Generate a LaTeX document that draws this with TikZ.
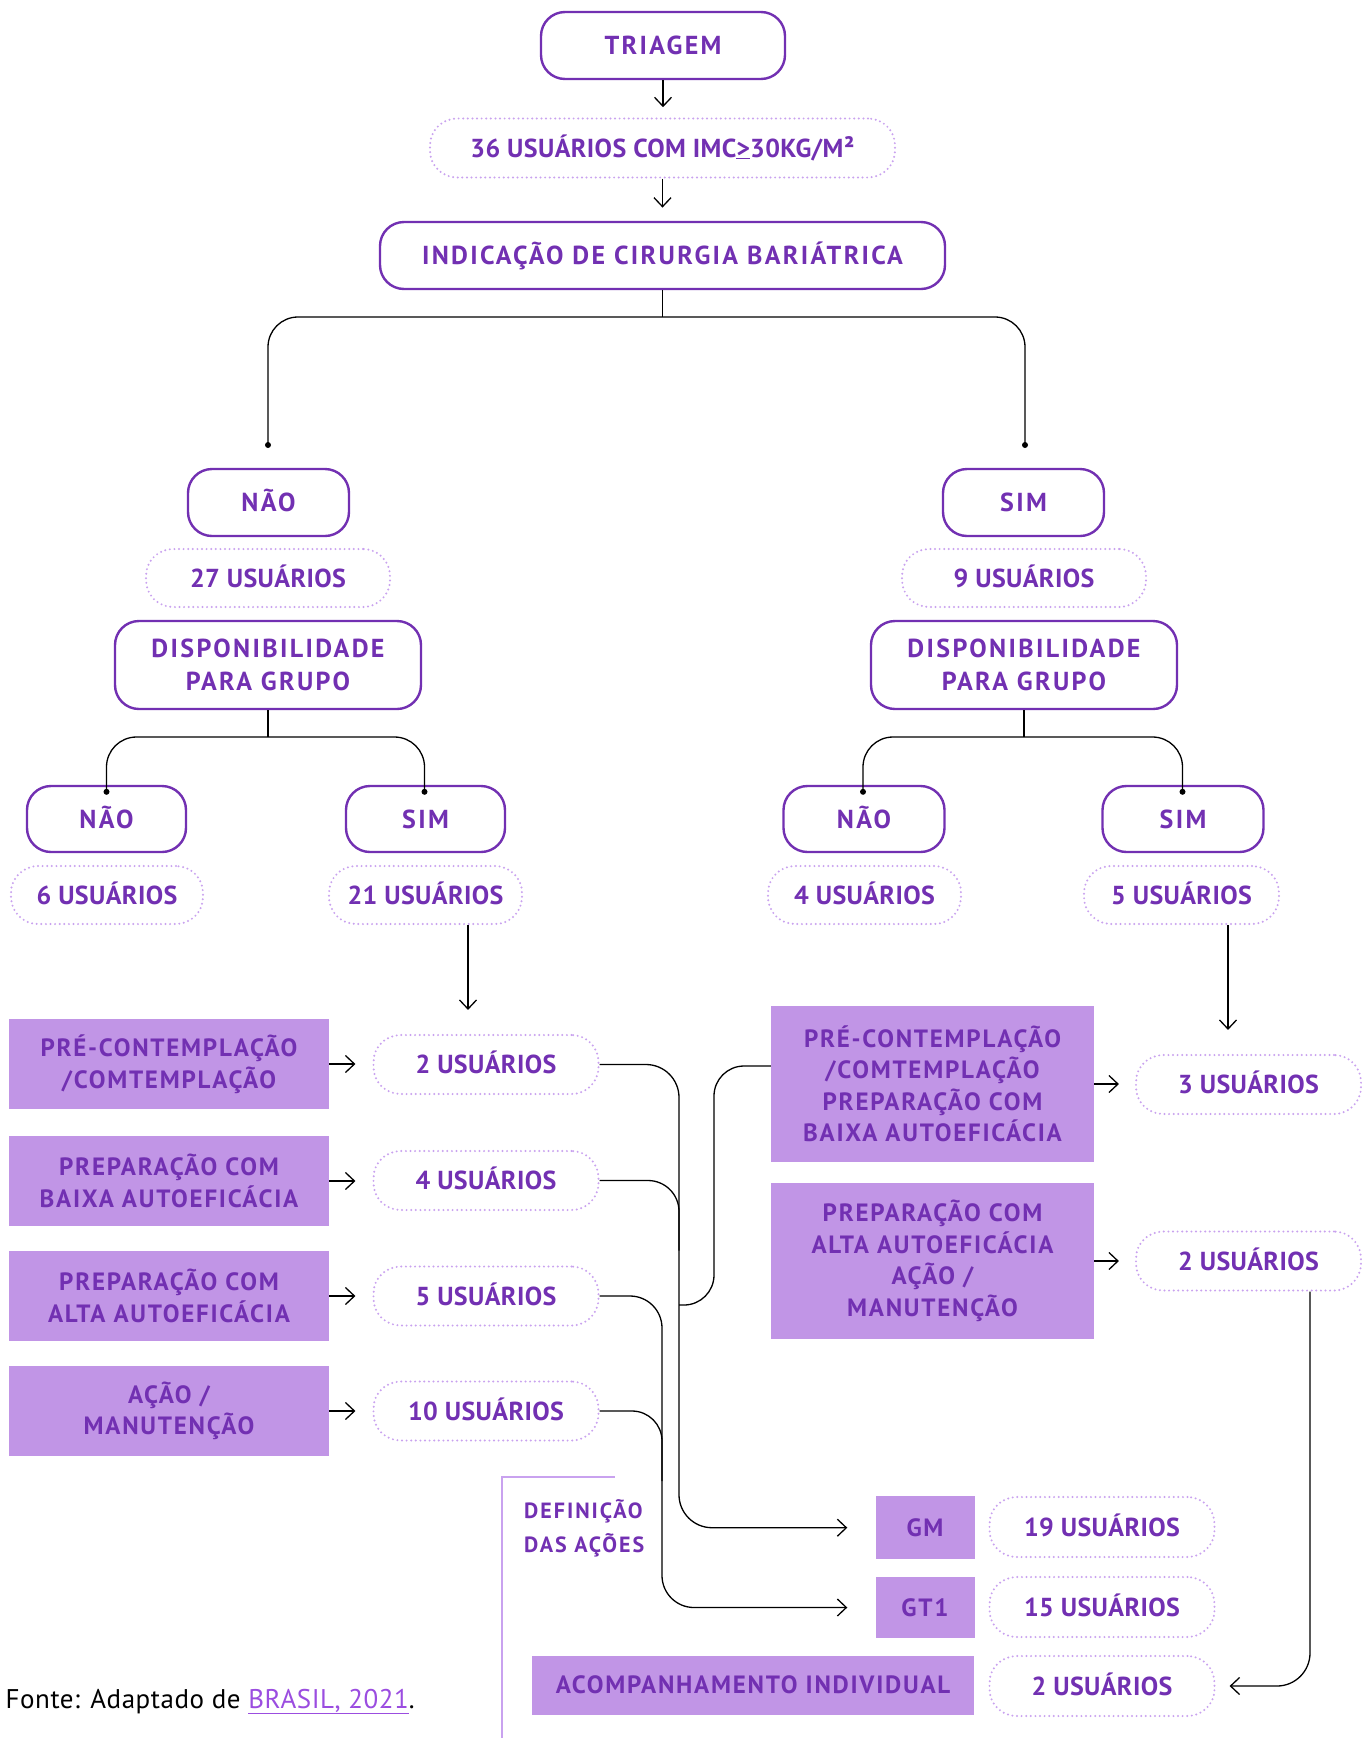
\documentclass[tikz,border=0pt]{standalone}
\usepackage{fontspec}
\setmainfont{PT Sans}
\usetikzlibrary{arrows.meta,calc}
\definecolor{dpurple}{HTML}{7230B2}
\definecolor{lpurple}{HTML}{C9A2EF}
\definecolor{fpurple}{HTML}{C195E6}
\definecolor{lnk}{HTML}{9B4DE0}
\newcommand\bxfont{\bfseries\fontsize{26}{33}\selectfont\addfontfeatures{LetterSpace=9}}
\newcommand\ctfont{\bfseries\fontsize{26}{33}\selectfont\addfontfeatures{LetterSpace=1.5}}
\newcommand\stfont{\bfseries\fontsize{25}{31.5}\selectfont\addfontfeatures{LetterSpace=7}}
\begin{document}
\begin{tikzpicture}[x=1pt,y=-1pt,
  sz/.style 2 args={minimum width=#1pt,minimum height=#2pt},
  one/.style={text height=18.2pt,text depth=0pt},
  onef/.style={text height=17.5pt,text depth=0pt},
  obox/.style={draw=dpurple,line width=2.4pt,rounded corners=24pt,text=dpurple,font=\bxfont,align=center,inner sep=0pt},
  dbox/.style={draw=lpurple,line width=2.2pt,dash pattern=on 0pt off 4.6pt,line cap=round,rounded corners=27pt,text=dpurple,font=\ctfont,align=center,inner sep=0pt,one},
  fbox/.style={fill=fpurple,text=dpurple,font=\stfont,align=center,inner sep=0pt},
  conn/.style={draw=black,line width=1.3pt},
  arr/.style={conn,-{Straight Barb[length=9pt,width=17pt,line width=1.3pt]}},
  dot/.style={fill=black}
]
\useasboundingbox (0,0) rectangle (1362,1738);
\fill[white] (0,0) rectangle (1362,1738);

% top chain
\node[obox,one,sz={244}{67}] (triagem) at (663,45.5) {TRIAGEM};
\node[dbox,sz={465}{59}] (imc) at (662.5,148) {36 USUÁRIOS COM IMC\underline{>}30KG/M²};
\node[obox,one,sz={565}{67}] (indic) at (662.5,255.5) {INDICAÇÃO DE CIRURGIA BARIÁTRICA};

% left branch
\node[obox,one,sz={161}{67}] (naoL) at (268.5,502.5) {NÃO};
\node[dbox,sz={244}{58}] (c27) at (268,578) {27 USUÁRIOS};
\node[obox,sz={306}{88}] (dispL) at (268,665) {DISPONIBILIDADE\\PARA GRUPO};
\node[obox,one,sz={159}{66}] (naoLL) at (106.5,819) {NÃO};
\node[dbox,sz={192}{58}] (c6) at (107,895) {6 USUÁRIOS};
\node[obox,one,sz={159}{66}] (simLR) at (425.5,819) {SIM};
\node[dbox,sz={193}{58}] (c21) at (425.5,895) {21 USUÁRIOS};

% right branch
\node[obox,one,sz={161}{67}] (simR) at (1023.5,502.5) {SIM};
\node[dbox,sz={244}{58}] (c9) at (1024,578) {9 USUÁRIOS};
\node[obox,sz={306}{88}] (dispR) at (1024,665) {DISPONIBILIDADE\\PARA GRUPO};
\node[obox,one,sz={161}{66}] (naoRL) at (864,819) {NÃO};
\node[dbox,sz={193}{58}] (c4r) at (864.5,895) {4 USUÁRIOS};
\node[obox,one,sz={161}{66}] (simRR) at (1183,819) {SIM};
\node[dbox,sz={195}{58}] (c5r) at (1181.5,895) {5 USUÁRIOS};

% left stages
\node[fbox,sz={320}{90}] (ls1) at (169,1064) {PRÉ-CONTEMPLAÇÃO\\/COMTEMPLAÇÃO};
\node[fbox,sz={320}{90}] (ls2) at (169,1181) {PREPARAÇÃO COM\\BAIXA AUTOEFICÁCIA};
\node[fbox,sz={320}{90}] (ls3) at (169,1296) {PREPARAÇÃO COM\\ALTA AUTOEFICÁCIA};
\node[fbox,sz={320}{90}] (ls4) at (169,1411) {AÇÃO /\\MANUTENÇÃO};
\node[dbox,sz={225}{59}] (c2) at (486,1064.5) {2 USUÁRIOS};
\node[dbox,sz={225}{59}] (c4) at (486,1180.5) {4 USUÁRIOS};
\node[dbox,sz={225}{59}] (c5) at (486,1296) {5 USUÁRIOS};
\node[dbox,sz={225}{59}] (c10) at (486,1411) {10 USUÁRIOS};

% right stages
\node[fbox,sz={323}{156}] (rs1) at (932.5,1084) {PRÉ-CONTEMPLAÇÃO\\/COMTEMPLAÇÃO\\PREPARAÇÃO COM\\BAIXA AUTOEFICÁCIA};
\node[fbox,sz={323}{156}] (rs2) at (932.5,1261) {PREPARAÇÃO COM\\ALTA AUTOEFICÁCIA\\AÇÃO /\\MANUTENÇÃO};
\node[dbox,sz={225}{59}] (c3) at (1248.5,1084.5) {3 USUÁRIOS};
\node[dbox,sz={225}{59}] (c2r) at (1248.5,1261) {2 USUÁRIOS};

% bottom
\node[fbox,onef,sz={99}{63}] (gm) at (925,1527.7) {GM};
\node[fbox,onef,sz={99}{61}] (gt1) at (925,1607.5) {GT1};
\node[dbox,sz={225}{60}] (c19) at (1102,1527) {19 USUÁRIOS};
\node[dbox,sz={225}{60}] (c15) at (1102,1607) {15 USUÁRIOS};
\node[dbox,sz={225}{60}] (c2b) at (1102,1686) {2 USUÁRIOS};
\node[fbox,onef,sz={442}{59}] (acomp) at (753,1685) {ACOMPANHAMENTO INDIVIDUAL};
\node[anchor=west,align=left,text=dpurple,font=\bfseries\fontsize{22}{34}\selectfont\addfontfeatures{LetterSpace=9},inner sep=0pt] (def) at (524,1528) {DEFINIÇÃO\\DAS AÇÕES};
\coordinate (Lbot) at (502,1738);
\coordinate (Ltop) at (502,1477);
\coordinate (Lend) at (615,1477);
\draw[lpurple,line width=2pt] (Lbot) -- (Ltop) -- (Lend);
\node[anchor=base west,inner sep=0pt,font=\fontsize{27}{30}\selectfont\addfontfeatures{LetterSpace=2}] (fonte) at (5.5,1708) {Fonte: Adaptado de \textcolor{lnk}{\underline{BRASIL, 2021}}.};

% top arrows
\draw[arr] (triagem.south) -- ++(0,27);
\draw[arr] (imc.south) -- ++(0,29);

% first split
\coordinate (jTop) at (662.5,317);
\coordinate (dotL) at (268,445);
\coordinate (dotR) at (1025,445);
\draw[conn] (indic.south) -- (jTop);
\draw[conn,rounded corners=30pt] (dotL) -- (dotL |- jTop) -- (dotR |- jTop) -- (dotR);
\fill[dot] (dotL) circle (3pt);
\fill[dot] (dotR) circle (3pt);

% second splits
\coordinate (jL) at (268,737);
\coordinate (dLL) at ($(naoLL.north)+(0,7)$);
\coordinate (dLR) at ($(simLR.north)+(-1,7)$);
\draw[conn] (dispL.south) -- (jL);
\draw[conn,rounded corners=30pt] (dLL) -- (dLL |- jL) -- (dLR |- jL) -- (dLR);
\fill[dot] (dLL) circle (3pt);
\fill[dot] (dLR) circle (3pt);

\coordinate (jR) at (1024,737);
\coordinate (dRL) at ($(naoRL.north)+(-1,7)$);
\coordinate (dRR) at ($(simRR.north)+(-0.5,7)$);
\draw[conn] (dispR.south) -- (jR);
\draw[conn,rounded corners=30pt] (dRL) -- (dRL |- jR) -- (dRR |- jR) -- (dRR);
\fill[dot] (dRL) circle (3pt);
\fill[dot] (dRR) circle (3pt);

% arrows down to stage counts
\coordinate (t21) at ($(c2.north)+(-18,-24)$);
\draw[arr] (c21.south -| t21) -- (t21);
\coordinate (t5) at ($(c3.north)+(-20.5,-24)$);
\draw[arr] (c5r.south -| t5) -- (t5);

% stage to count arrows
\draw[arr] (ls1.east) -- ($(c2.west)+(-17,-0.5)$);
\draw[arr] (ls2.east) -- ($(c4.west)+(-17,0.5)$);
\draw[arr] (ls3.east) -- ($(c5.west)+(-17,0)$);
\draw[arr] (ls4.east) -- ($(c10.west)+(-17,0)$);
\draw[arr] (rs1.east) -- ($(c3.west)+(-16,-0.5)$);
\draw[arr] (rs2.east) -- ($(c2r.west)+(-16,0)$);

% routing to GM / GT1
\coordinate (xGM) at (679,0);
\coordinate (xGT) at (662,0);
\coordinate (xRB) at (714,0);
\coordinate (gmIn) at ($(gm.west)+(-28,0)$);
\coordinate (gtIn) at ($(gt1.west)+(-28,0)$);
\draw[arr,rounded corners=33pt] (c2.east) -- (c2.east -| xGM) -- (xGM |- gmIn) -- (gmIn);
\draw[conn,rounded corners=31pt] (c4.east) -- (c4.east -| xGM) -- ($(c4.east -| xGM)+(0,70)$);
\coordinate (rsOut) at ($(rs1.west)+(0,-18)$);
\coordinate (rsJoin) at (679,1305);
\draw[conn,rounded corners=30pt] (rsOut) -- (rsOut -| xRB) -- (xRB |- rsJoin) [rounded corners=14pt] -- (rsJoin);
\draw[arr,rounded corners=32pt] (c5.east) -- (c5.east -| xGT) -- (xGT |- gtIn) -- (gtIn);
\draw[conn,rounded corners=30pt] (c10.east) -- (c10.east -| xGT) -- ($(c10.east -| xGT)+(0,70)$);

% right 2 users to individual
\coordinate (xR) at (1310,0);
\coordinate (t2b) at ($(c2b.east)+(14,0)$);
\draw[arr,rounded corners=33pt] (c2r.south -| xR) -- (xR |- t2b) -- (t2b);
\end{tikzpicture}
\end{document}
